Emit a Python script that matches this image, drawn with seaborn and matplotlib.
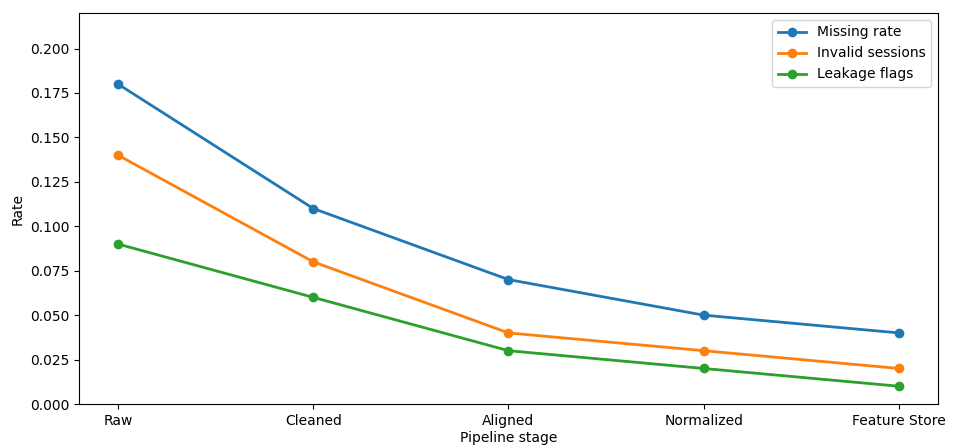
import matplotlib
matplotlib.use("Agg")
import matplotlib.pyplot as plt
import seaborn as sns
import pandas as pd

stages = ["Raw", "Cleaned", "Aligned", "Normalized", "Feature Store"]
missing_rate = [0.18, 0.11, 0.07, 0.05, 0.04]
invalid_sessions = [0.14, 0.08, 0.04, 0.03, 0.02]
leakage_flags = [0.09, 0.06, 0.03, 0.02, 0.01]
series_names = ["Missing rate", "Invalid sessions", "Leakage flags"]

rows = []
for name, vals in zip(series_names, [missing_rate, invalid_sessions, leakage_flags]):
    for i, (s, v) in enumerate(zip(stages, vals)):
        rows.append({"pos": i, "stage": s, "series": name, "rate": v})
df = pd.DataFrame(rows)

fig = plt.figure(figsize=(9.54, 4.45), dpi=100)
ax = fig.add_axes([0.0828, 0.0921, 0.9004, 0.8787])
palette = ["#1f77b4", "#ff7f0e", "#2ca02c"]
sns.lineplot(data=df, x="pos", y="rate", hue="series", hue_order=series_names,
             palette=palette, marker="o", markersize=7, markeredgewidth=0,
             linewidth=2, ax=ax)
ax.set_xticks(range(len(stages)))
ax.set_xticklabels(stages)
ax.set_xlim(-0.2, 4.2)
ax.set_ylim(0, 0.22)
ax.set_yticks([0, 0.025, 0.05, 0.075, 0.1, 0.125, 0.15, 0.175, 0.2])
ax.yaxis.set_major_formatter(matplotlib.ticker.FormatStrFormatter("%.3f"))
ax.set_xlabel("Pipeline stage", labelpad=2)
ax.set_ylabel("Rate")
ax.legend(loc="upper right")
fig.savefig("out.png", dpi=100)
